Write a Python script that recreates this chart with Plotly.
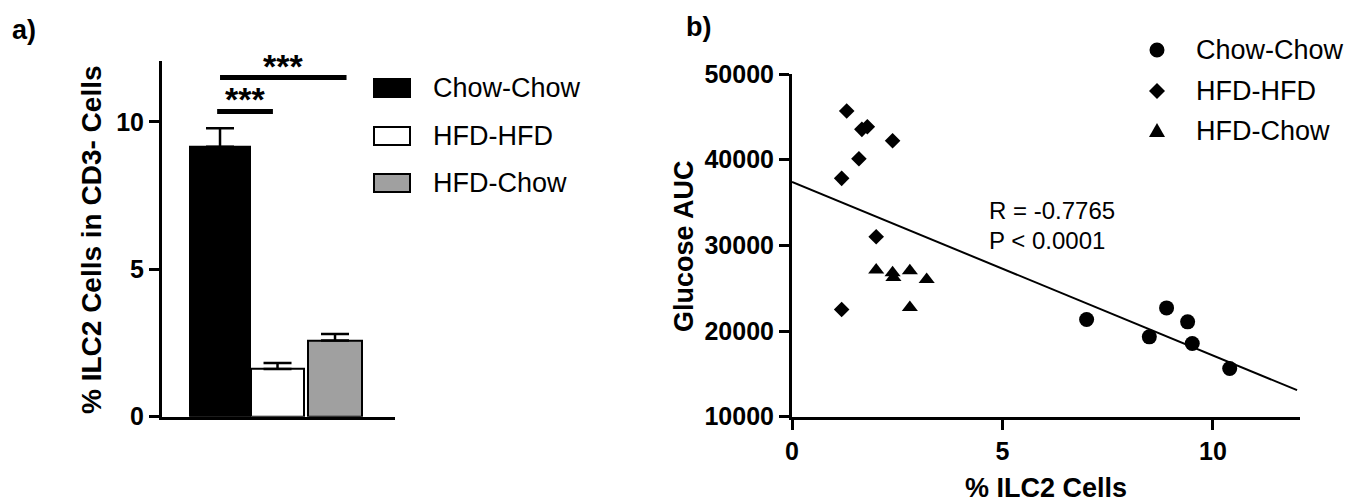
import plotly.graph_objects as go

W, H = 1361, 502
OFF = 8  # page body margin offset of the plot div

# ---------------- data ----------------
groups = ["Chow-Chow", "HFD-HFD", "HFD-Chow"]
bar_means = [9.15, 1.62, 2.58]
bar_sem = [0.63, 0.20, 0.22]
bar_colors = ["#000000", "#ffffff", "#a0a0a0"]
bar_widths = [1.04, 0.92, 0.94]

# significance brackets
sig_start = [-0.05, 0.0]
sig_end = [0.92, 2.2]
sig_height = [10.35, 11.5]
sig_label = ["***", "***"]

chow_x = [7.0, 8.49, 8.9, 9.4, 9.51, 10.4]
chow_y = [21350, 19320, 22700, 21070, 18540, 15620]
hfd_x = [1.3, 1.66, 1.79, 2.39, 1.59, 1.18, 2.0, 1.18]
hfd_y = [45680, 43540, 43850, 42210, 40110, 37820, 31000, 22520]
hfdchow_x = [2.0, 2.39, 2.41, 2.8, 3.2, 2.8]
hfdchow_y = [27110, 26790, 26250, 27030, 26020, 22750]

fit_intercept = 37400
fit_slope = -2025
fit_x = [0.0, 12.0]
stat_r = "R = -0.7765"
stat_p = "P < 0.0001"

a_yticks = [0, 5, 10]
b_xticks = [0, 5, 10]
b_yticks = [10000, 20000, 30000, 40000, 50000]

FONT = "Liberation Sans, Arial, sans-serif"


def px(x):
    return (x - OFF) / W


def py(y):
    return 1 - (y - OFF) / H


fig = go.Figure()

# ---------------- panel a ----------------
fig.add_trace(go.Bar(
    x=list(range(len(groups))), y=bar_means, width=bar_widths,
    marker=dict(color=bar_colors, line=dict(color="black", width=2)),
    error_y=dict(type="data", array=bar_sem, arrayminus=[0] * len(bar_sem),
                 symmetric=False, color="black", thickness=2.5, width=14),
    xaxis="x", yaxis="y", showlegend=False, hoverinfo="skip",
))

shapes = []
annotations = []
for s, e, h, lab in zip(sig_start, sig_end, sig_height, sig_label):
    shapes.append(dict(type="line", xref="x", yref="y", x0=s, x1=e, y0=h, y1=h,
                       line=dict(color="black", width=5)))
    annotations.append(dict(xref="x", yref="y", x=(s + e) / 2, y=h, text=lab,
                            showarrow=False, xanchor="center", yanchor="bottom", yshift=-9,
                            font=dict(family=FONT, size=34, color="black", weight="bold")))

# legend a (manual)
leg_a_y = [88, 136, 183]
for name, col, yy in zip(groups, bar_colors, leg_a_y):
    shapes.append(dict(type="rect", xref="paper", yref="paper",
                       x0=px(374), x1=px(410), y0=py(yy + 9), y1=py(yy - 9),
                       fillcolor=col, line=dict(color="black", width=2)))
    annotations.append(dict(xref="paper", yref="paper", x=px(431), y=py(yy), text=name,
                            showarrow=False, xanchor="left", yanchor="middle",
                            font=dict(family=FONT, size=27, color="black")))

# ---------------- panel b ----------------
mk_line = dict(width=0)
fig.add_trace(go.Scatter(x=chow_x, y=chow_y, mode="markers", name=groups[0],
                         marker=dict(symbol="circle", size=15, color="black", line=mk_line),
                         xaxis="x2", yaxis="y2", showlegend=False))
fig.add_trace(go.Scatter(x=hfd_x, y=hfd_y, mode="markers", name=groups[1],
                         marker=dict(symbol="diamond", size=12, color="black", line=mk_line),
                         xaxis="x2", yaxis="y2", showlegend=False))
fig.add_trace(go.Scatter(x=hfdchow_x, y=hfdchow_y, mode="markers", name=groups[2],
                         marker=dict(symbol="triangle-up", size=14, color="black", line=mk_line),
                         xaxis="x2", yaxis="y2", showlegend=False))
fig.add_trace(go.Scatter(x=fit_x, y=[fit_intercept + fit_slope * v for v in fit_x],
                         mode="lines", line=dict(color="black", width=2),
                         xaxis="x2", yaxis="y2", showlegend=False, hoverinfo="skip"))

annotations.append(dict(xref="paper", yref="paper", x=px(987), y=py(210), text=stat_r,
                        showarrow=False, xanchor="left", yanchor="middle",
                        font=dict(family=FONT, size=24, color="black")))
annotations.append(dict(xref="paper", yref="paper", x=px(987), y=py(240), text=stat_p,
                        showarrow=False, xanchor="left", yanchor="middle",
                        font=dict(family=FONT, size=24, color="black")))

# legend b (manual)
leg_b_y = [50, 91, 131]
cx = 1157
r = 7.5
shapes.append(dict(type="circle", xref="paper", yref="paper",
                   x0=px(cx - r), x1=px(cx + r), y0=py(leg_b_y[0] + r), y1=py(leg_b_y[0] - r),
                   fillcolor="black", line=dict(width=0)))
d = 8
yy = leg_b_y[1]
shapes.append(dict(type="path", xref="paper", yref="paper",
                   path=f"M {px(cx)} {py(yy - d)} L {px(cx + d)} {py(yy)} L {px(cx)} {py(yy + d)} L {px(cx - d)} {py(yy)} Z",
                   fillcolor="black", line=dict(width=0)))
t = 8
yy = leg_b_y[2]
shapes.append(dict(type="path", xref="paper", yref="paper",
                   path=f"M {px(cx)} {py(yy - t)} L {px(cx + t)} {py(yy + 6)} L {px(cx - t)} {py(yy + 6)} Z",
                   fillcolor="black", line=dict(width=0)))
for name, yy in zip(groups, leg_b_y):
    annotations.append(dict(xref="paper", yref="paper", x=px(1194), y=py(yy), text=name,
                            showarrow=False, xanchor="left", yanchor="middle",
                            font=dict(family=FONT, size=27, color="black")))

# titles and panel labels
bold = dict(family=FONT, size=27, color="black", weight="bold")
centered = dict(showarrow=False, xanchor="center", yanchor="middle", xref="paper", yref="paper")
annotations += [
    dict(x=px(91), y=py(240), text="% ILC2 Cells in CD3- Cells",
         textangle=-90, font=dict(bold, size=28), **centered),
    dict(x=px(684), y=py(246), text="Glucose AUC",
         textangle=-90, font=bold, **centered),
    dict(x=px(1046), y=py(488), text="% ILC2 Cells", font=bold, **centered),
    dict(x=px(24), y=py(30), text="a)", font=bold, **centered),
    dict(x=px(698), y=py(27), text="b)", font=bold, **centered),
]

tickfont = dict(family=FONT, size=25, color="black", weight="bold")
axis_common = dict(showline=True, linewidth=3, linecolor="black", showgrid=False,
                   zeroline=False, fixedrange=True, automargin=False)

fig.update_layout(
    template="none",
    width=W, height=H, margin=dict(l=0, r=0, t=0, b=0, pad=0, autoexpand=False),
    paper_bgcolor="white", plot_bgcolor="white",
    bargap=0,
    xaxis=dict(domain=[px(162), px(395)], range=[-1.009, 3.043], showticklabels=False,
               ticks="", anchor="y", **axis_common),
    yaxis=dict(domain=[py(416.7), py(60.7)], range=[0, 12.07], tickvals=a_yticks,
               ticks="outside", ticklen=10, tickwidth=3, tickcolor="black",
               tickfont=tickfont, anchor="x", **axis_common),
    xaxis2=dict(domain=[px(792), px(1300)], range=[0, 12.07], tickvals=b_xticks,
                ticks="outside", ticklen=10, tickwidth=3, tickcolor="black",
                tickfont=tickfont, anchor="y2", **axis_common),
    yaxis2=dict(domain=[py(416.7), py(74)], range=[10000, 50000], tickvals=b_yticks,
                tickformat="d", ticks="outside", ticklen=10, tickwidth=3, tickcolor="black",
                tickfont=tickfont, anchor="x2", **axis_common),
    shapes=shapes, annotations=annotations,
)

fig.write_html("out.html")
